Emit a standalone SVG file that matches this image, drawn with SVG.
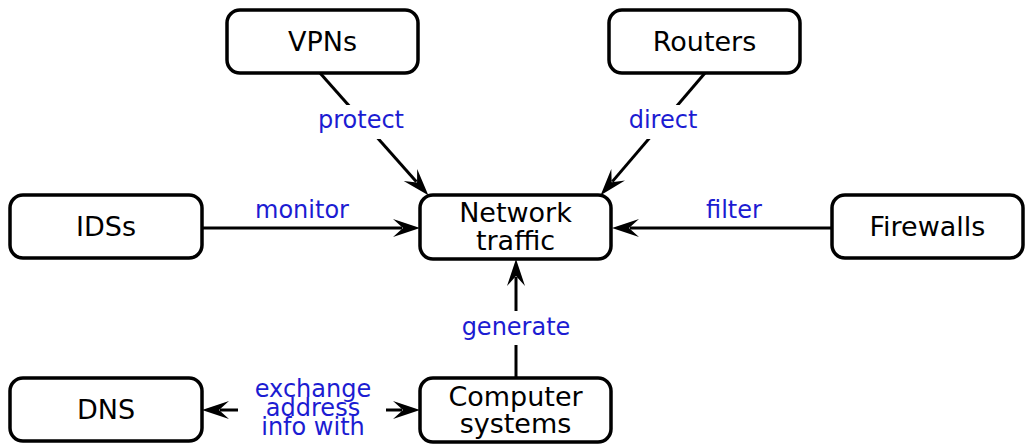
<svg xmlns="http://www.w3.org/2000/svg" width="1033" height="448" viewBox="0 0 1033 448">
<style>
.node rect{fill:#fff;stroke:#000;stroke-width:3.5}
.node text{font-family:"DejaVu Sans",sans-serif;font-size:27px;fill:#000;text-anchor:middle}
.edge{stroke:#000;stroke-width:3;fill:none}
.lbl{font-family:"DejaVu Sans",sans-serif;font-size:24px;fill:#1c1cd2;text-anchor:middle}
.bg{fill:#fff;stroke:none}
</style>
<defs>
<marker id="arr" markerUnits="userSpaceOnUse" markerWidth="28" markerHeight="20" refX="9" refY="10" orient="auto-start-reverse" overflow="visible">
<path d="M27,10 L0,1 L10,10 L0,19 Z" fill="#000"/>
</marker>
</defs>
<rect width="1033" height="448" fill="#fff"/>
<g id="connectors">
<line class="edge" x1="320" y1="73" x2="416.4" y2="181.8" marker-end="url(#arr)"/>
<line class="edge" x1="705" y1="73" x2="612.3" y2="181.6" marker-end="url(#arr)"/>
<line class="edge" x1="202" y1="228" x2="402" y2="228" marker-end="url(#arr)"/>
<line class="edge" x1="832" y1="228" x2="630" y2="228" marker-end="url(#arr)"/>
<line class="edge" x1="516" y1="378" x2="516" y2="277" marker-end="url(#arr)"/>
<line class="edge" x1="220" y1="410" x2="402" y2="410" marker-start="url(#arr)" marker-end="url(#arr)"/>
<rect class="bg" x="314" y="105" width="94" height="34"/>
<text class="lbl" x="361" y="128">protect</text>
<rect class="bg" x="626" y="105" width="74" height="34"/>
<text class="lbl" x="663" y="128">direct</text>
<text class="lbl" x="302" y="218">monitor</text>
<text class="lbl" x="734" y="218">filter</text>
<rect class="bg" x="462" y="311" width="108" height="34"/>
<text class="lbl" x="516" y="335">generate</text>
<rect class="bg" x="238" y="376" width="148" height="66"/>
<text class="lbl" x="313" y="397">exchange</text>
<text class="lbl" x="313" y="416">address</text>
<text class="lbl" x="313" y="435">info with</text>
</g>
<g id="vpns" class="node"><rect x="227" y="10" width="191" height="63" rx="13"/><text x="322.5" y="51">VPNs</text></g>
<g id="routers" class="node"><rect x="609" y="10" width="191" height="63" rx="13"/><text x="704.5" y="51">Routers</text></g>
<g id="idss" class="node"><rect x="10" y="195" width="192" height="63" rx="13"/><text x="106" y="236">IDSs</text></g>
<g id="network-traffic" class="node"><rect x="420" y="195" width="191" height="64" rx="13"/><text x="515.5" y="222">Network</text><text x="515.5" y="250">traffic</text></g>
<g id="firewalls" class="node"><rect x="832" y="195" width="191" height="63" rx="13"/><text x="927.5" y="236">Firewalls</text></g>
<g id="dns" class="node"><rect x="10" y="378" width="192" height="63" rx="13"/><text x="106" y="419">DNS</text></g>
<g id="computer-systems" class="node"><rect x="420" y="378" width="191" height="64" rx="13"/><text x="515.5" y="406">Computer</text><text x="515.5" y="433">systems</text></g>
</svg>
